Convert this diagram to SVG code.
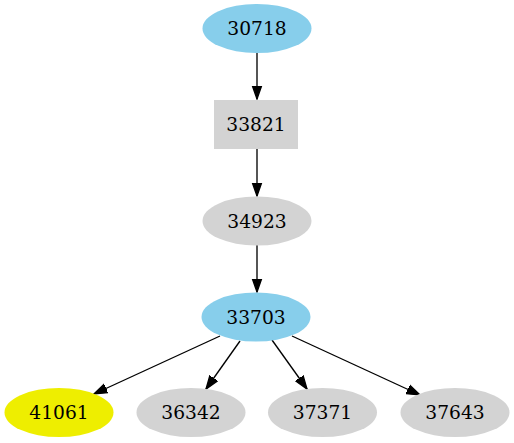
<svg xmlns="http://www.w3.org/2000/svg" width="514" height="443" viewBox="0 0 514 443">
<style>
text{font-family:"DejaVu Serif","Liberation Serif",serif;font-size:18.67px;text-anchor:middle;fill:#000}
.e{stroke:#000;stroke-width:1.33;fill:none}
.blue{fill:#87ceeb}
.gray{fill:#d3d3d3}
.yel{fill:#eeee00}
</style>
<defs>
<marker id="ah" markerUnits="userSpaceOnUse" markerWidth="16" markerHeight="12" refX="13.3" refY="5" orient="auto" viewBox="0 0 16 10">
<polygon points="0,0.33 13.3,5 0,9.67" fill="#000" stroke="#000" stroke-width="1.33"/>
</marker>
</defs>
<g id="connectors">
<path class="e" d="M257,53 L257,99" marker-end="url(#ah)"/>
<path class="e" d="M257,149 L257,196" marker-end="url(#ah)"/>
<path class="e" d="M257,245 L257,292" marker-end="url(#ah)"/>
<path class="e" d="M220,336 L94,394" marker-end="url(#ah)"/>
<path class="e" d="M240,341 L206,389" marker-end="url(#ah)"/>
<path class="e" d="M272,340 L307,389" marker-end="url(#ah)"/>
<path class="e" d="M292,336 L420,395" marker-end="url(#ah)"/>
</g>
<g id="n30718"><ellipse class="blue" cx="257" cy="28.5" rx="54.5" ry="24.5"/><text x="257" y="35">30718</text></g>
<g id="n33821"><rect class="gray" x="214" y="100" width="84" height="49"/><text x="256" y="131">33821</text></g>
<g id="n34923"><ellipse class="gray" cx="257" cy="221" rx="54.5" ry="24.5"/><text x="257" y="227.5">34923</text></g>
<g id="n33703"><ellipse class="blue" cx="256" cy="317" rx="54.5" ry="24.5"/><text x="256" y="323.5">33703</text></g>
<g id="n41061"><ellipse class="yel" cx="59" cy="412.5" rx="54.5" ry="24.5"/><text x="59" y="419">41061</text></g>
<g id="n36342"><ellipse class="gray" cx="191" cy="412.5" rx="54.5" ry="24.5"/><text x="191" y="419">36342</text></g>
<g id="n37371"><ellipse class="gray" cx="322.5" cy="412.5" rx="54.5" ry="24.5"/><text x="322.5" y="419">37371</text></g>
<g id="n37643"><ellipse class="gray" cx="455" cy="412.5" rx="54.5" ry="24.5"/><text x="455" y="419">37643</text></g>
</svg>
